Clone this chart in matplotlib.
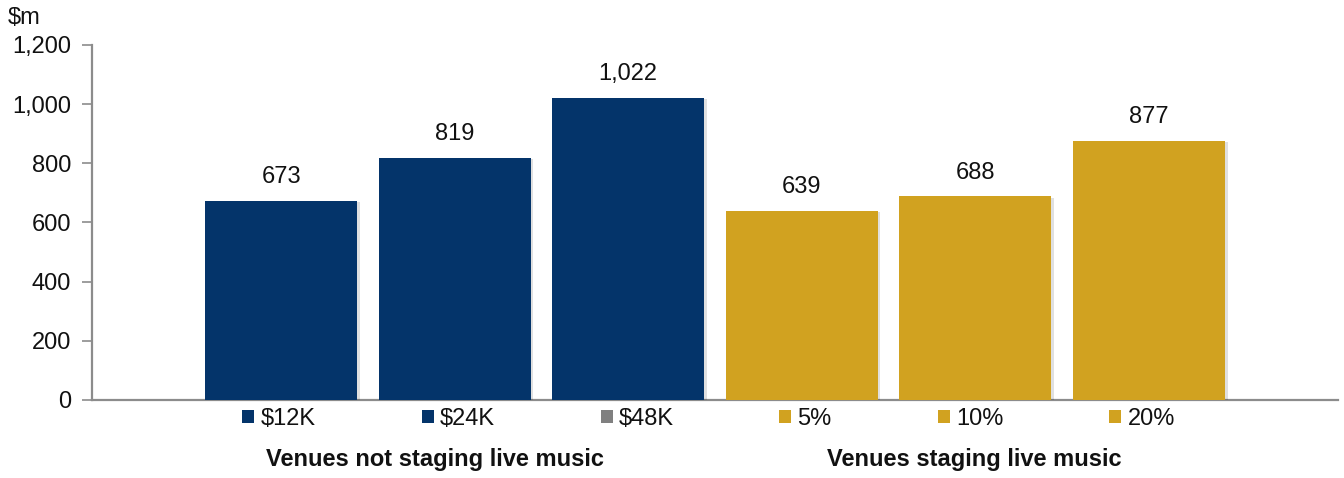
import matplotlib
matplotlib.use("Agg")
import matplotlib.pyplot as plt
from matplotlib.patches import Patch
from matplotlib import patheffects as pe

plt.rcParams['font.family'] = ['Liberation Sans', 'DejaVu Sans']

# Data
labels = ["$12K", "$24K", "$48K", "5%", "10%", "20%"]
values = [673, 819, 1022, 639, 688, 877]
group_titles = ["Venues not staging live music", "Venues staging live music"]
yticks = [0, 200, 400, 600, 800, 1000, 1200]

navy = "#04346A"
gold = "#D1A220"
grey = "#808080"
bar_colors = [navy, navy, navy, gold, gold, gold]
legend_colors = [navy, navy, grey, gold, gold, gold]
axis_col = "#8C8C8C"
txt = "#111111"
fs = 17

fig = plt.figure(figsize=(13.44, 4.78), dpi=100)
ax = fig.add_axes([0.0685, 0.1632, 0.927, 0.7427])

x = list(range(len(values)))
bars = ax.bar(x, values, width=0.875, color=bar_colors, zorder=3)
for b in bars:
    b.set_path_effects([pe.SimplePatchShadow(offset=(2, -1), shadow_rgbFace="#000000", alpha=0.12),
                        pe.Normal()])

for xi, v in zip(x, values):
    ax.annotate(f"{v:,}", (xi, v), xytext=(0, 9), textcoords="offset points",
                ha="center", va="bottom", fontsize=fs, color=txt)

ax.set_xlim(-1.09, 6.09)
ax.set_ylim(0, 1200)
ax.set_yticks(yticks)
ax.set_yticklabels([f"{t:,}" for t in yticks], fontsize=fs, color=txt)
ax.set_xticks([])
ax.tick_params(axis="y", direction="out", length=7, width=1.2, color=axis_col, pad=8)

for s in ["top", "right"]:
    ax.spines[s].set_visible(False)
for s in ["left", "bottom"]:
    ax.spines[s].set_color(axis_col)
    ax.spines[s].set_linewidth(1.6)

fig.text(0.006, 0.962, "$m", fontsize=fs, ha="left", va="center", color=txt)

# Legends, one per group
def make_legend(idx, cx):
    handles = [Patch(facecolor=legend_colors[i], edgecolor="none") for i in idx]
    leg = fig.legend(handles, [labels[i] for i in idx], ncol=3, loc="center",
                     bbox_to_anchor=(cx, 0.1234), frameon=False, fontsize=fs,
                     handlelength=0.51, handleheight=0.51, handletextpad=0.25,
                     columnspacing=4.5, borderaxespad=0, borderpad=0)
    for t in leg.get_texts():
        t.set_color(txt)
    return leg

make_legend([0, 1, 2], 0.3408)
make_legend([3, 4, 5], 0.727)

fig.text(0.324, 0.0377, group_titles[0], fontsize=fs, fontweight="bold",
         ha="center", va="center", color=txt)
fig.text(0.7247, 0.0377, group_titles[1], fontsize=fs, fontweight="bold",
         ha="center", va="center", color=txt)

fig.savefig("out.png", dpi=100)
